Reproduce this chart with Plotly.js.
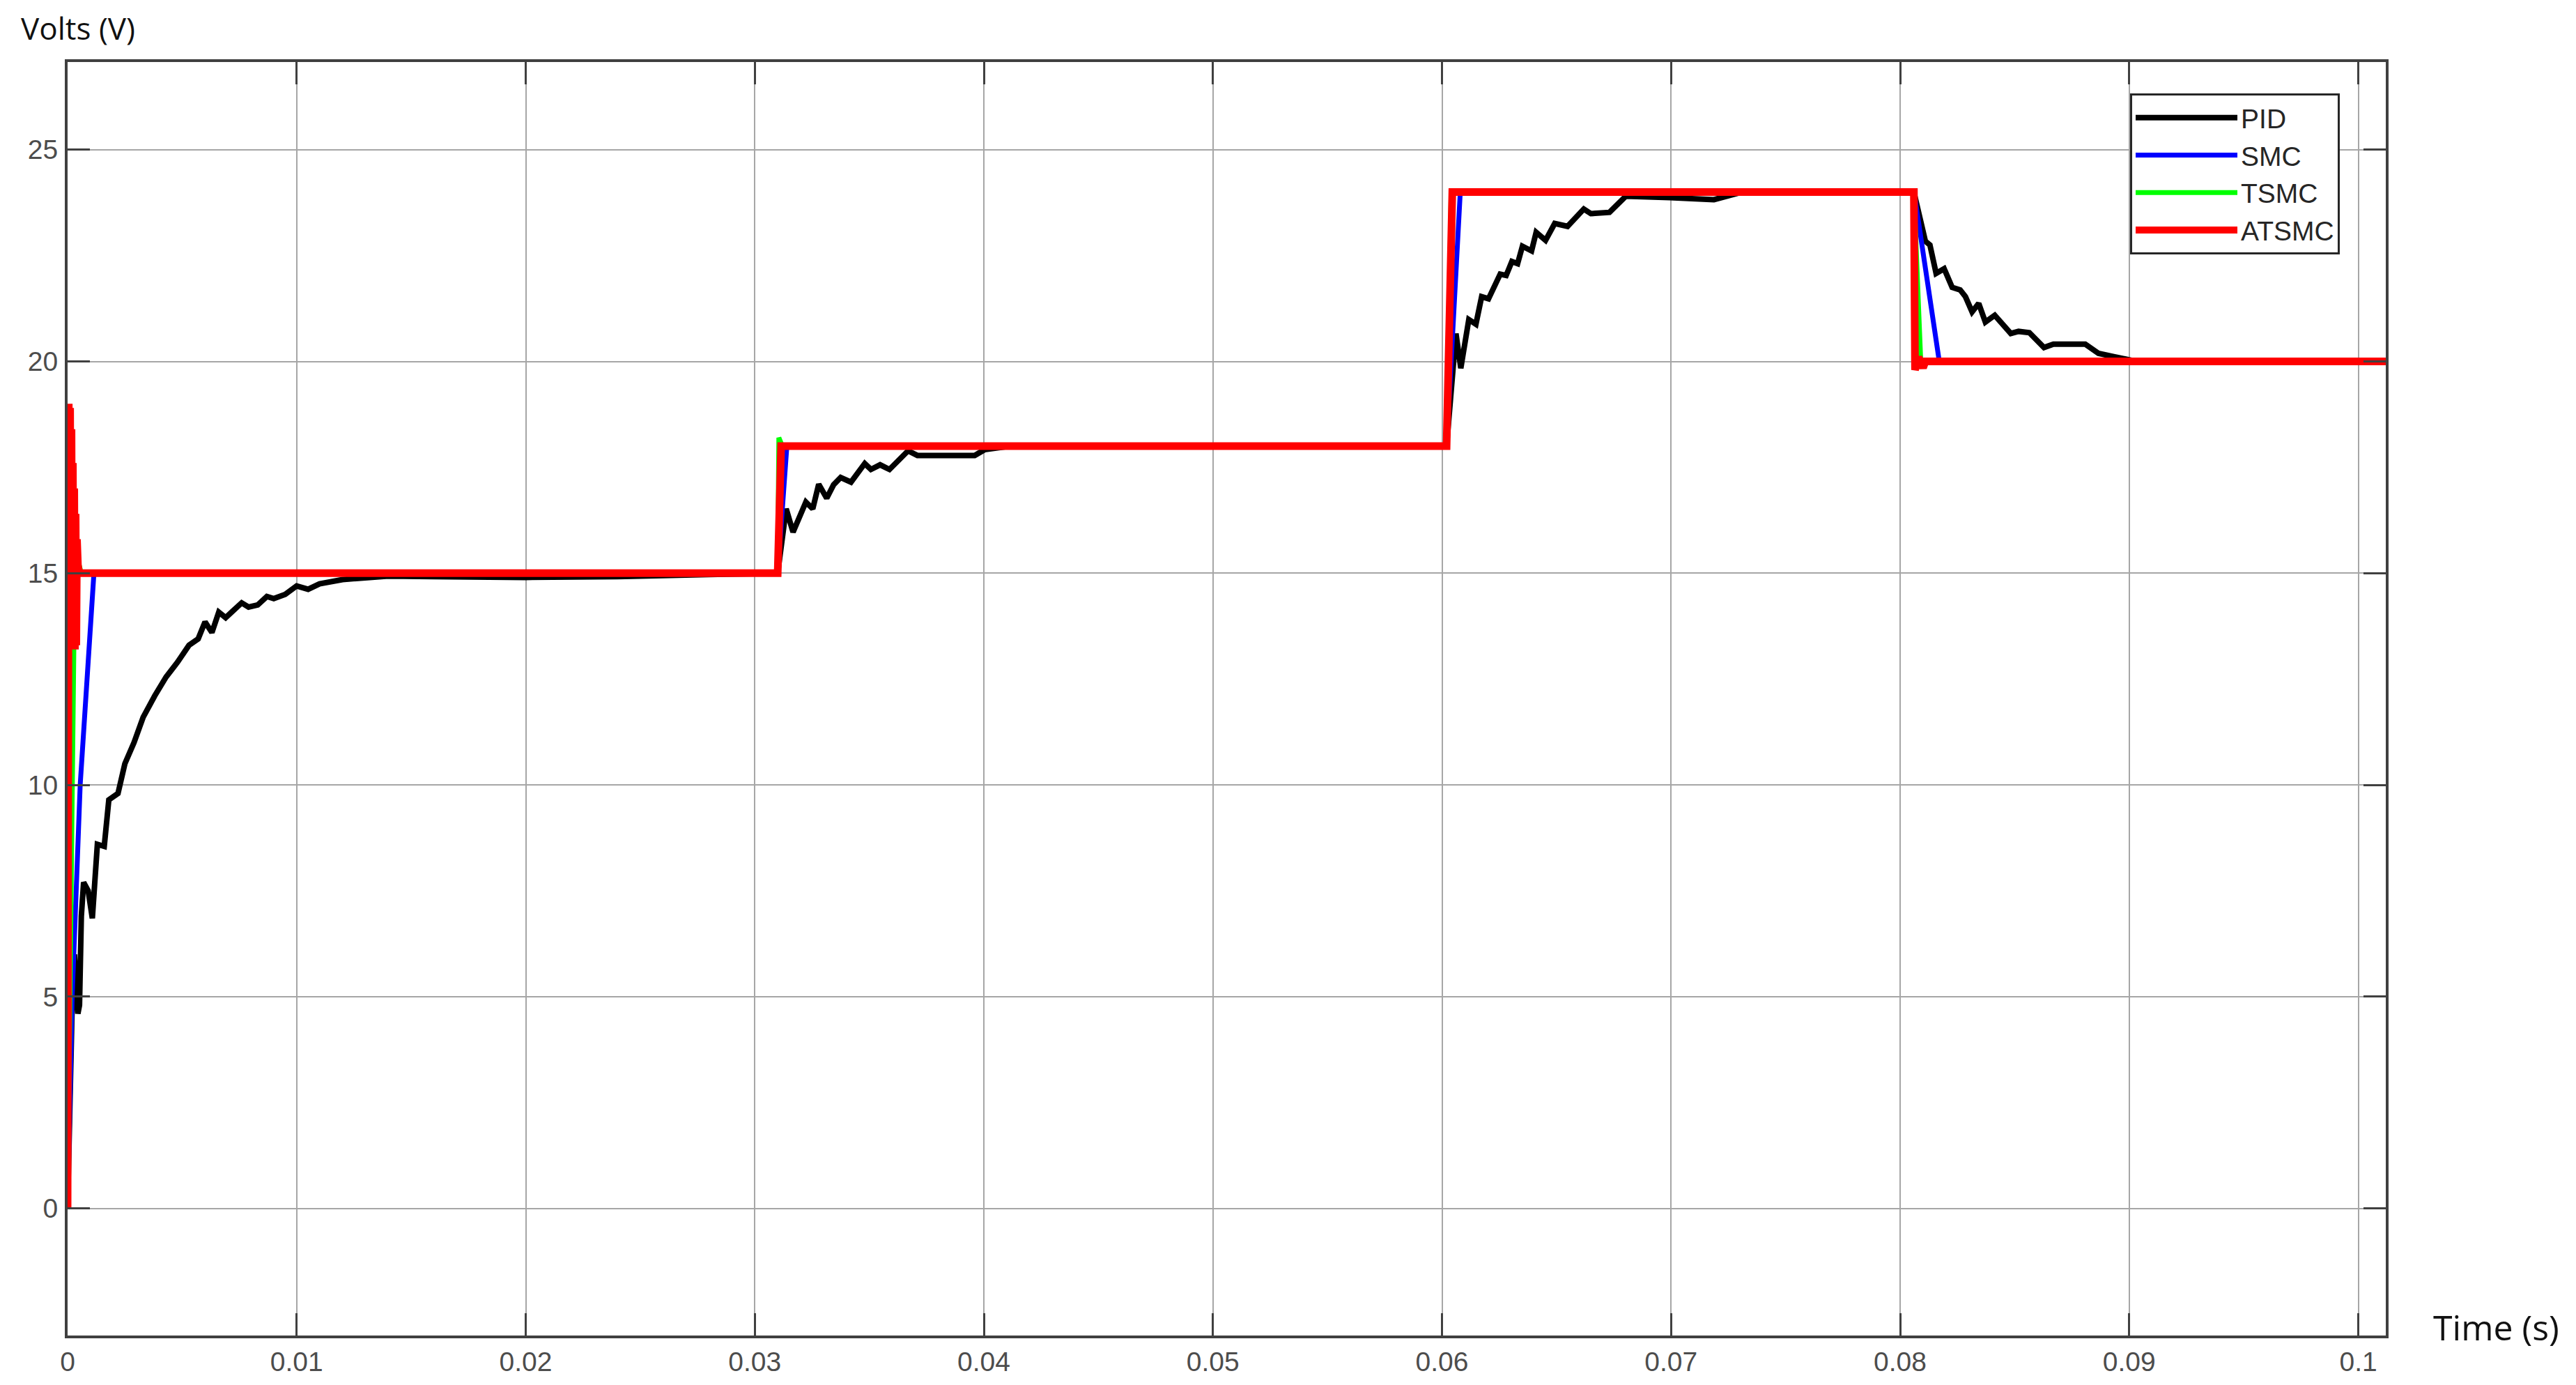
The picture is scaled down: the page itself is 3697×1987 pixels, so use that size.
<!DOCTYPE html>
<html>
<head>
<meta charset="utf-8">
<script src="https://cdn.plot.ly/plotly-3.0.1.min.js"></script>
<style>
  html, body { margin: 0; padding: 0; background: #fff; }
  #chart { width: 3697px; height: 1987px; }
</style>
</head>
<body>
<div id="chart"></div>
<script>
// values (time in s, voltage in V)
const pidT = [0, 0.0001, 0.0002, 0.0003, 0.00038, 0.00045, 0.00052, 0.0006, 0.0007, 0.0009,
  0.00108, 0.0013, 0.0016, 0.0018, 0.0022, 0.0025, 0.0029, 0.0033, 0.0038, 0.0043,
  0.0048, 0.0053, 0.0057, 0.006, 0.0063, 0.0066, 0.0069, 0.0072, 0.0076, 0.0079,
  0.0083, 0.0087, 0.009, 0.0095, 0.01, 0.0105, 0.011, 0.012, 0.014, 0.016,
  0.02, 0.024, 0.028, 0.031,
  0.03137, 0.03167, 0.03223, 0.03253, 0.03279, 0.03314, 0.03344, 0.03375, 0.0342, 0.0348,
  0.03507, 0.03547, 0.03588, 0.03669, 0.0371, 0.0396, 0.04004, 0.04115, 0.042, 0.0602,
  0.06061, 0.06082, 0.06117, 0.06148, 0.06173, 0.06203, 0.06254, 0.0628, 0.06305, 0.0633,
  0.06351, 0.06391, 0.06411, 0.06452, 0.06492, 0.06548, 0.06619, 0.0665, 0.06731, 0.06802,
  0.06994, 0.07187, 0.07298, 0.074, 0.0806,
  0.0811, 0.0813, 0.08157, 0.08192, 0.08227, 0.08262, 0.08285, 0.08314, 0.08343, 0.08372,
  0.08413, 0.08483, 0.08517, 0.08564, 0.08628, 0.08669, 0.08808, 0.08866, 0.08936, 0.09017,
  0.1012];
const pidV = [0, 2.4, 4.8, 6.0, 5.2, 4.6, 4.8, 6.9, 7.7, 7.5,
  6.85, 8.6, 8.55, 9.65, 9.8, 10.5, 11.0, 11.6, 12.1, 12.55,
  12.9, 13.3, 13.45, 13.85, 13.6, 14.08, 13.95, 14.1, 14.3, 14.2,
  14.25, 14.45, 14.4, 14.5, 14.7, 14.62, 14.75, 14.85, 14.93, 14.92,
  14.9, 14.92, 14.97, 15.0,
  16.52, 15.97, 16.68, 16.52, 17.1, 16.77, 17.09, 17.26, 17.15, 17.59,
  17.45, 17.56, 17.45, 17.89, 17.78, 17.78, 17.92, 18.0, 18.0, 18.0,
  20.66, 19.84, 20.99, 20.88, 21.53, 21.48, 22.06, 22.03, 22.36, 22.31,
  22.72, 22.61, 23.05, 22.86, 23.26, 23.19, 23.6, 23.49, 23.52, 23.9,
  23.87, 23.82, 23.98, 24.0, 24.0,
  22.84, 22.75, 22.08, 22.19, 21.75, 21.69, 21.53, 21.17, 21.37, 20.93,
  21.09, 20.66, 20.71, 20.68, 20.33, 20.41, 20.41, 20.19, 20.11, 20.02,
  20.0];

const smcT = [0, 0.0002, 0.00055, 0.00115, 0.031, 0.0314, 0.0602, 0.0608, 0.0806, 0.0817, 0.1012];
const smcV = [0, 5, 10, 15, 15, 18, 18, 24.03, 24.03, 20.03, 20.03];

const tsmcT = [0, 0.0003, 0.00045, 0.0006, 0.031, 0.03105, 0.0312, 0.0602, 0.0604, 0.0806, 0.0809, 0.1012];
const tsmcV = [0, 14.5, 15.3, 15, 15, 18.2, 18, 18, 24, 24, 20, 20];

const atsmcT = [0, 0.00005, 0.00008, 0.00011, 0.00014, 0.00017, 0.0002, 0.00023, 0.00026, 0.00029,
  0.00032, 0.00035, 0.00038, 0.00041, 0.00045, 0.0005, 0.031, 0.03115, 0.0602, 0.06045,
  0.0806, 0.08065, 0.0808, 0.081, 0.0811, 0.1012];
const atsmcV = [0, 19, 14.0, 18.9, 13.3, 18.4, 13.3, 17.6, 13.2, 17.0,
  13.2, 16.4, 13.3, 15.8, 15.2, 15, 15, 18, 18, 24,
  24, 19.8, 20.1, 19.85, 20, 20];

const seriesNames = ['PID', 'SMC', 'TSMC', 'ATSMC'];
const seriesColors = ['#000000', '#0000ff', '#00ff00', '#ff0000'];
const seriesWidths = [8, 7, 7, 11];

const xTicks = [0, 0.01, 0.02, 0.03, 0.04, 0.05, 0.06, 0.07, 0.08, 0.09, 0.1];
const yTicks = [0, 5, 10, 15, 20, 25];

const xs = [pidT, smcT, tsmcT, atsmcT];
const ys = [pidV, smcV, tsmcV, atsmcV];

const traces = seriesNames.map((name, i) => ({
  x: xs[i],
  y: ys[i],
  name: name,
  type: 'scatter',
  mode: 'lines',
  line: { color: seriesColors[i], width: seriesWidths[i], simplify: false }
}));

const tickFont = { family: 'Liberation Sans, Arial, sans-serif', size: 39, color: '#4d4d4d' };

const axisCommon = {
  showgrid: true,
  gridcolor: '#a6a6a6',
  gridwidth: 2,
  zeroline: false,
  showline: true,
  linecolor: '#404040',
  linewidth: 4,
  mirror: 'allticks',
  ticks: 'inside',
  ticklen: 32,
  tickwidth: 3,
  tickcolor: '#404040',
  tickfont: tickFont
};

const layout = {
  width: 3697,
  height: 1987,
  paper_bgcolor: '#ffffff',
  plot_bgcolor: '#ffffff',
  margin: { l: 97, r: 273, t: 89, b: 71 },
  xaxis: Object.assign({}, axisCommon, {
    range: [0, 0.1012],
    tickvals: xTicks,
    ticktext: xTicks.map(String),
    ticklabelstandoff: 0
  }),
  yaxis: Object.assign({}, axisCommon, {
    range: [-3, 27.07],
    tickvals: yTicks,
    ticktext: yTicks.map(String),
    ticklabelstandoff: 2
  }),
  showlegend: true,
  legend: {
    x: 0.8897,
    y: 0.9754,
    xanchor: 'left',
    yanchor: 'top',
    bgcolor: '#ffffff',
    bordercolor: '#262626',
    borderwidth: 3,
    itemwidth: 146,
    font: { family: 'Liberation Sans, Arial, sans-serif', size: 39, color: '#262626' }
  },
  annotations: [
    {
      text: 'Volts (V)',
      xref: 'paper', yref: 'paper',
      x: -0.0207, y: 1.0268,
      xanchor: 'left', yanchor: 'middle',
      showarrow: false,
      font: { family: 'Open Sans, Noto Sans, sans-serif', size: 44, color: '#111111' }
    },
    {
      text: 'Time (s)',
      xref: 'paper', yref: 'paper',
      x: 1.0198, y: 0.0066,
      xanchor: 'left', yanchor: 'middle',
      showarrow: false,
      font: { family: 'Open Sans, Noto Sans, sans-serif', size: 50, color: '#111111' }
    }
  ]
};

Plotly.newPlot('chart', traces, layout, { staticPlot: true, displayModeBar: false });
</script>
</body>
</html>
